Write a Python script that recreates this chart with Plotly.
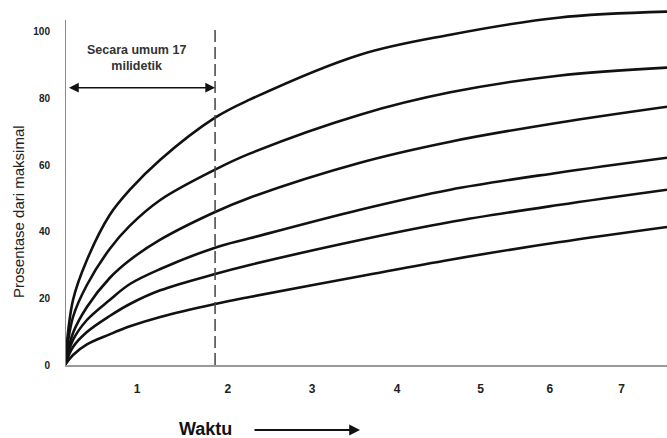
import plotly.graph_objects as go

# Time samples (arbitrary time units along the horizontal axis)
waktu = [0, 0.095, 0.26, 0.53, 0.77, 1.13, 1.78, 2.19, 3.50, 4.57, 5.85, 7.14]

# Percentage of maximum for six curves (top to bottom)
kurva_1 = [0, 19.5, 31.5, 45.0, 52.6, 61.6, 74.2, 79.6, 93.1, 99.1, 104.2, 106.0]
kurva_2 = [0, 14.4, 24.0, 34.8, 41.8, 49.5, 58.6, 63.4, 75.1, 81.8, 86.8, 89.2]
kurva_3 = [0, 9.6, 17.4, 26.1, 31.5, 37.6, 45.9, 50.2, 60.7, 67.0, 72.7, 77.5]
kurva_4 = [0, 7.5, 13.5, 19.5, 24.3, 28.8, 35.2, 38.0, 46.6, 52.6, 57.7, 62.2]
kurva_5 = [0, 5.4, 9.9, 14.7, 18.3, 22.4, 27.3, 30.0, 37.5, 42.9, 48.0, 52.6]
kurva_6 = [0, 3.0, 6.2, 9.2, 11.6, 14.4, 18.3, 20.4, 26.6, 31.6, 36.8, 41.4]

# Axis ticks
x_tick_pos = [0.854, 1.93, 2.93, 3.94, 4.93, 5.75, 6.60]
x_tick_text = ["1", "2", "3", "4", "5", "6", "7"]
y_tick_vals = [0, 20, 40, 60, 80, 100]

batas_waktu = 1.78  # dashed marker

FONT = "Liberation Sans, Arial, sans-serif"
L, T, PW, PH = 65, 5, 602, 360


def px(xp):
    return (xp - L) / PW


def py(yp):
    return (T + PH - yp) / PH


fig = go.Figure()
for ys in [kurva_1, kurva_2, kurva_3, kurva_4, kurva_5, kurva_6]:
    fig.add_trace(go.Scatter(
        x=waktu, y=ys, mode="lines",
        line=dict(color="#111111", width=2.6, shape="spline", smoothing=1.0),
        showlegend=False, hoverinfo="skip"))

fig.update_layout(
    width=667, height=438,
    margin=dict(l=L, r=0, t=T, b=438 - T - PH),
    paper_bgcolor="white", plot_bgcolor="white",
    font=dict(family=FONT, color="#222222"),
    showlegend=False,
)

fig.update_xaxes(
    range=[0, 7.14], tickvals=x_tick_pos, ticktext=x_tick_text,
    showgrid=False, zeroline=False, showline=True, linecolor="#9a9a9a", linewidth=2,
    ticks="", ticklabelstandoff=12,
    tickfont=dict(family=FONT, size=12, color="#222222", weight="bold"),
)
fig.update_yaxes(
    range=[0, 108], tickvals=y_tick_vals,
    showgrid=False, zeroline=False, showline=False,
    ticks="", ticklabelstandoff=14,
    tickfont=dict(family=FONT, size=10, color="#222222", weight="bold"),
)

# Y axis line (does not reach top of plot)
fig.add_shape(type="line", xref="x", yref="y", x0=0, x1=0, y0=0, y1=103.6,
              line=dict(color="#8a8a8a", width=2))
# Dashed vertical line
fig.add_shape(type="line", xref="x", yref="y", x0=batas_waktu, x1=batas_waktu, y0=0, y1=102,
              line=dict(color="#444444", width=1.5, dash="12px,5px"))

# Double-headed arrow
fig.add_annotation(x=batas_waktu, y=83.2, ax=0.03, ay=83.2, xref="x", yref="y",
                   axref="x", ayref="y", text="", showarrow=True,
                   arrowhead=2, arrowsize=1.3, arrowwidth=1.5, arrowcolor="#111111",
                   arrowside="end+start")
fig.add_annotation(x=px(136), y=py(57.5), xref="paper", yref="paper",
                   xanchor="center", yanchor="middle",
                   text="Secara umum 17<br>milidetik", showarrow=False,
                   font=dict(family=FONT, size=12.5, color="#333333", weight="bold"),
                   align="center")

# Axis titles
fig.add_annotation(x=px(19), y=py(212), xref="paper", yref="paper",
                   xanchor="center", yanchor="middle",
                   text="Prosentase dari maksimal", textangle=-90, showarrow=False,
                   font=dict(family=FONT, size=15, color="#222222"))
fig.add_annotation(x=px(205), y=py(429), xref="paper", yref="paper",
                   xanchor="center", yanchor="middle",
                   text="Waktu", showarrow=False,
                   font=dict(family=FONT, size=18, color="#111111", weight="bold"))
fig.add_annotation(x=px(360), y=py(430), xref="paper", yref="paper",
                   ax=-107, ay=0, text="", showarrow=True,
                   arrowhead=2, arrowsize=1.2, arrowwidth=1.8, arrowcolor="#111111")

fig.write_html("out.html", config={"displayModeBar": False},
               post_script="document.body.style.margin='0';")
